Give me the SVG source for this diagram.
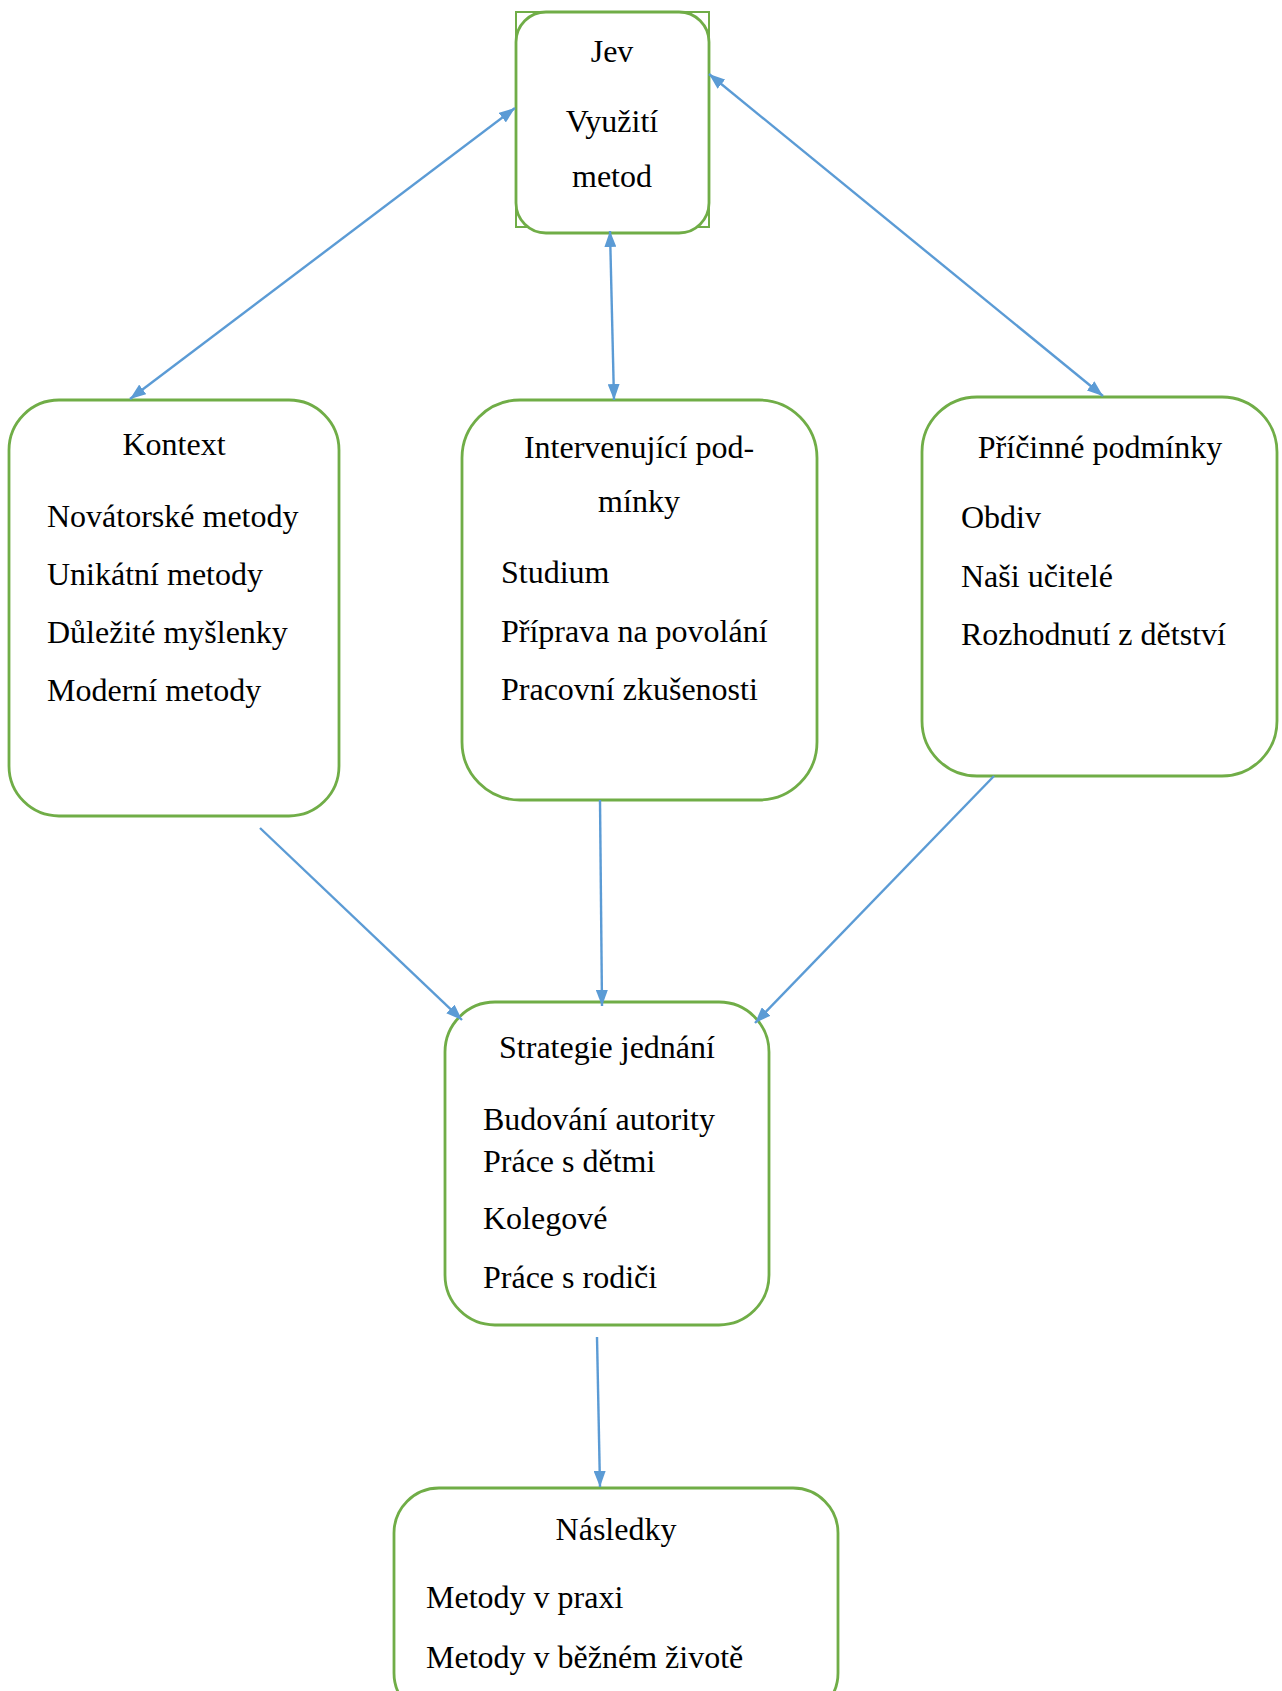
<svg xmlns="http://www.w3.org/2000/svg" width="1282" height="1691" viewBox="0 0 1282 1691">
<style>
.box{fill:#fff;stroke:#70AD47;stroke-width:2.8}
.t{font-family:"Liberation Serif","Times New Roman",serif;font-size:32px;fill:#000}
.c{text-anchor:middle}
.e{stroke:#5B9BD5;stroke-width:2.4;fill:none}
</style>
<defs>
<marker id="ah" viewBox="0 0 16 12" refX="16" refY="6" markerWidth="16" markerHeight="12" markerUnits="userSpaceOnUse" orient="auto-start-reverse">
<path d="M0,0 L16,6 L0,12 z" fill="#5B9BD5"/>
</marker>
</defs>
<rect width="1282" height="1691" fill="#fff"/>
<g id="jev">
<rect x="516" y="12" width="193" height="215" fill="none" stroke="#70AD47" stroke-width="2"/>
<rect class="box" x="516" y="12" width="193" height="221" rx="30"/>
<text class="t c" x="612" y="62">Jev</text>
<text class="t c" x="612" y="132">Využití</text>
<text class="t c" x="612" y="187">metod</text>
</g>
<g id="kontext">
<rect class="box" x="9" y="400" width="330" height="416" rx="50"/>
<text class="t c" x="174" y="455">Kontext</text>
<text class="t" x="47" y="527">Novátorské metody</text>
<text class="t" x="47" y="585">Unikátní metody</text>
<text class="t" x="47" y="643">Důležité myšlenky</text>
<text class="t" x="47" y="701">Moderní metody</text>
</g>
<g id="intervenujici">
<rect class="box" x="462" y="400" width="355" height="400" rx="58"/>
<text class="t c" x="639" y="458">Intervenující pod-</text>
<text class="t c" x="639" y="512">mínky</text>
<text class="t" x="501" y="583">Studium</text>
<text class="t" x="501" y="642">Příprava na povolání</text>
<text class="t" x="501" y="700">Pracovní zkušenosti</text>
</g>
<g id="pricinne">
<rect class="box" x="922" y="397" width="355" height="379" rx="55"/>
<text class="t c" x="1100" y="458">Příčinné podmínky</text>
<text class="t" x="961" y="528">Obdiv</text>
<text class="t" x="961" y="587">Naši učitelé</text>
<text class="t" x="961" y="645">Rozhodnutí z dětství</text>
</g>
<g id="strategie">
<rect class="box" x="445" y="1002" width="324" height="323" rx="50"/>
<text class="t c" x="607" y="1058">Strategie jednání</text>
<text class="t" x="483" y="1130">Budování autority</text>
<text class="t" x="483" y="1172">Práce s dětmi</text>
<text class="t" x="483" y="1229">Kolegové</text>
<text class="t" x="483" y="1288">Práce s rodiči</text>
</g>
<g id="nasledky">
<rect class="box" x="394" y="1488" width="444" height="230" rx="45"/>
<text class="t c" x="616" y="1540">Následky</text>
<text class="t" x="426" y="1608">Metody v praxi</text>
<text class="t" x="426" y="1668">Metody v běžném životě</text>
</g>
<g id="connectors">
<line class="e" x1="130" y1="399" x2="515" y2="108" marker-start="url(#ah)" marker-end="url(#ah)"/>
<line class="e" x1="610" y1="231" x2="614" y2="400" marker-start="url(#ah)" marker-end="url(#ah)"/>
<line class="e" x1="709" y1="74" x2="1103" y2="396" marker-start="url(#ah)" marker-end="url(#ah)"/>
<line class="e" x1="260" y1="828" x2="462" y2="1020" marker-end="url(#ah)"/>
<line class="e" x1="600" y1="800" x2="602" y2="1006" marker-end="url(#ah)"/>
<line class="e" x1="994" y1="776" x2="755" y2="1023" marker-end="url(#ah)"/>
<line class="e" x1="597" y1="1337" x2="600" y2="1487" marker-end="url(#ah)"/>
</g>
</svg>
